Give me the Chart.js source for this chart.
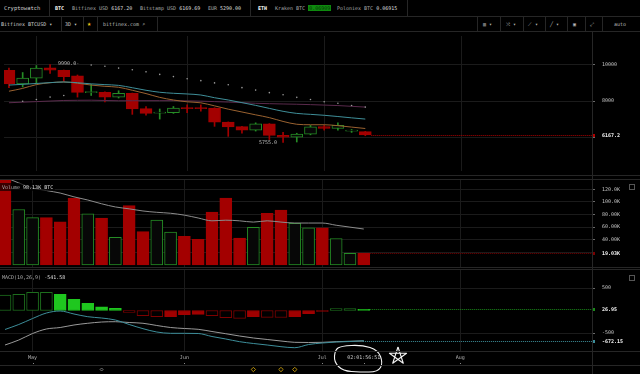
<!DOCTYPE html>
<html><head><meta charset="utf-8">
<script src="https://cdn.jsdelivr.net/npm/chart.js@4.4.1/dist/chart.umd.min.js"></script>
<style>
html,body{margin:0;padding:0;background:#000;width:640px;height:374px;overflow:hidden;font-family:"DejaVu Sans Mono",monospace;}
.t{position:absolute;white-space:nowrap;color:#a9a9a9;font-size:5px;line-height:6px;}
.t b{color:#dedede;font-weight:normal;}
.hl{position:absolute;height:1px;background:#262626;z-index:5;}
.vl{position:absolute;width:1px;background:#262626;z-index:5;}
.cv{position:absolute;left:0;}
</style></head><body>
<!-- top bar -->
<div class="t" style="left:4px;top:5px;color:#cfcfcf;font-size:5.5px">Cryptowatch</div>
<div class="vl" style="left:49px;top:0;height:16px"></div>
<div class="t" style="left:55px;top:5px;color:#fff;font-weight:bold">BTC</div>
<div class="t" style="left:72px;top:5px">Bitfinex USD <b>6167.20</b></div>
<div class="t" style="left:140px;top:5px">Bitstamp USD <b>6169.69</b></div>
<div class="t" style="left:208px;top:5px">EUR <b>5290.00</b></div>
<div class="vl" style="left:250px;top:0;height:16px"></div>
<div class="t" style="left:258px;top:5px;color:#fff;font-weight:bold">ETH</div>
<div class="t" style="left:275px;top:5px">Kraken BTC <span style="background:#0e8a0e;color:#063806;padding:0 1px">0.06909</span></div>
<div class="t" style="left:337px;top:5px">Poloniex BTC <b>0.06915</b></div>
<div class="vl" style="left:407px;top:0;height:16px"></div>
<div class="hl" style="left:0;top:16px;width:640px"></div>
<!-- toolbar -->
<div class="t" style="left:1px;top:21px;color:#cfcfcf">Bitfinex BTCUSD ▾</div>
<div class="vl" style="left:61px;top:17px;height:14px"></div>
<div class="t" style="left:65px;top:21px;color:#cfcfcf">3D ▾</div>
<div class="vl" style="left:83px;top:17px;height:14px"></div>
<div class="t" style="left:87px;top:20px;color:#f0c419;font-size:7px;line-height:8px">★</div>
<div class="vl" style="left:97px;top:17px;height:14px"></div>
<div class="t" style="left:103px;top:21px;color:#bcbcbc">bitfinex.com ⌕</div>
<div class="vl" style="left:157px;top:17px;height:14px"></div>
<div class="vl" style="left:477px;top:17px;height:14px"></div>
<div class="t" style="left:483px;top:21px;color:#bbb">▥ ▾</div>
<div class="vl" style="left:500px;top:17px;height:14px"></div>
<div class="t" style="left:506px;top:21px;color:#bbb">⤨ ▾</div>
<div class="vl" style="left:523px;top:17px;height:14px"></div>
<div class="t" style="left:528px;top:21px;color:#bbb">⟋ ▾</div>
<div class="vl" style="left:545px;top:17px;height:14px"></div>
<div class="t" style="left:550px;top:21px;color:#bbb">╱ ▾</div>
<div class="vl" style="left:567px;top:17px;height:14px"></div>
<div class="t" style="left:573px;top:21px;color:#bbb">▣</div>
<div class="vl" style="left:585px;top:17px;height:14px"></div>
<div class="t" style="left:590px;top:21px;color:#bbb">⤢</div>
<div class="vl" style="left:602px;top:17px;height:14px"></div>
<div class="t" style="left:614px;top:21px;color:#bbb">auto</div>
<div class="hl" style="left:0;top:31px;width:640px"></div>

<canvas id="priceC" class="cv" style="top:32px" width="640" height="143"></canvas>
<canvas id="volC" class="cv" style="top:180px" width="640" height="87"></canvas>
<canvas id="macdC" class="cv" style="top:270px" width="640" height="104"></canvas>

<div class="hl" style="left:0;top:175px;width:640px"></div>
<div class="hl" style="left:0;top:179px;width:640px"></div>
<div class="hl" style="left:0;top:267px;width:640px"></div>
<div class="hl" style="left:0;top:269px;width:640px"></div>
<div class="hl" style="left:0;top:351px;width:640px"></div>
<div class="hl" style="left:0;top:365px;width:640px"></div>
<div class="vl" style="left:592px;top:32px;height:342px"></div>

<div class="t" style="left:0;top:183px;padding:1px 2px;background:rgba(0,0,0,0.65);z-index:6">Volume <b>98.13K BTC</b></div>
<div class="t" style="left:2px;top:274px;z-index:6">MACD(10,26,9) <b>-541.58</b></div>
<div style="position:absolute;left:629px;top:184px;width:4px;height:4px;border:1px solid #555;z-index:6"></div>
<div style="position:absolute;left:629px;top:275px;width:4px;height:4px;border:1px solid #555;z-index:6"></div>

<script>
// ---------- data ----------
const monthLabels = ['May', 'Jun', 'Jul', 'Aug'];
const monthIndex  = [2, 13, 23, 33];

const opens  = [9675, 8938, 9246, 9810, 9677, 9369, 8462, 8477, 8220, 8426, 7590, 7349, 7369, 7641, 7656, 7626, 6856, 6615, 6426, 6769, 6138, 6036, 6205, 6615, 6513, 6374, 6344];
const highs  = [9795, 9554, 9933, 9990, 9690, 9420, 8908, 8500, 8564, 8440, 7708, 7574, 7708, 7795, 7795, 7640, 6870, 6630, 6821, 6780, 6308, 6256, 6682, 6682, 6821, 6460, 6360];
const lows   = [8733, 8769, 8938, 9503, 9077, 8220, 8308, 7964, 8169, 7282, 7231, 7026, 7333, 7369, 7451, 6631, 6087, 6256, 6374, 5913, 5755, 5780, 6170, 6426, 6426, 6300, 6120];
const closes = [8938, 9246, 9795, 9677, 9333, 8477, 8513, 8220, 8426, 7574, 7333, 7400, 7626, 7590, 7590, 6856, 6600, 6426, 6769, 6138, 6036, 6205, 6600, 6513, 6682, 6400, 6167.2];

const maTeal   = [8872, 8913, 8959, 9005, 9041, 9000, 8938, 8897, 8856, 8728, 8590, 8482, 8426, 8390, 8333, 8185, 8062, 7918, 7769, 7605, 7447, 7334, 7282, 7231, 7164, 7092, 7026];
const maOrange = [8539, 8692, 8897, 9000, 9041, 8974, 8872, 8805, 8754, 8590, 8410, 8205, 8062, 7964, 7908, 7744, 7564, 7410, 7256, 7103, 6898, 6744, 6718, 6718, 6667, 6590, 6513];
const maPurple = [7913, 7944, 7974, 8005, 8036, 8046, 8051, 8036, 8021, 8021, 8026, 8026, 8026, 8015, 8000, 7974, 7949, 7918, 7882, 7862, 7846, 7831, 7810, 7785, 7759, 7718, 7677];
const sarDots  = [null, 7990, 8087, 8220, 8308, null, 9964, 9897, 9795, 9708, 9590, 9451, 9333, 9215, 9113, 8990, 8887, 8733, 8600, 8462, 8344, 8205, 8087, 7964, 7882, 7759, 7677];

const volumesK = [138, 88, 75, 75, 68.6, 106, 81, 74.5, 44, 94, 52.8, 71, 52, 45.4, 40.7, 84, 106, 42.8, 59.7, 82, 87, 66, 59, 59, 42, 18.5, 19.03];
const volumeMAK = [139, 130, 122, 118, 114, 108, 103, 97, 92, 89, 85.6, 83.5, 82, 79, 74.5, 70, 71, 70, 68, 70, 68, 66.5, 66.5, 66.5, 63, 60, 57];

const macdHist   = [344, 360, 404, 404, 360, 249, 160, 84, 49, -40, -116, -138, -138, -93, -85, -116, -160, -174, -138, -152, -155, -138, -71, -18, 42, 44, 26.95];
const macdLine   = [-422, -311, -178, -56, -11, -78, -138, -167, -211, -311, -404, -478, -507, -507, -511, -578, -633, -693, -733, -767, -804, -827, -756, -722, -700, -689, -672.15];
const macdSignal = [-767, -656, -511, -411, -378, -322, -284, -256, -249, -267, -284, -333, -378, -400, -418, -467, -516, -567, -611, -644, -678, -707, -711, -707, -693, -684, -678];

const priceTicks = [6000, 8000, 10000];
const priceTickLabels = ['', '8000', '10000'];
const volumeTicks = [20, 40, 60, 80, 100, 120];
const volumeTickLabels = ['', '40.00K', '60.00K', '80.00K', '100.0K', '120.0K'];
const macdTicks = [-500, 500];
const macdTickLabels = ['-500', '500'];
const eventIndex = [18, 20, 21];
const otherEventIndex = [7];
const countdownText = '02:01:56:51';

// ---------- styles ----------
const MONO = '"DejaVu Sans Mono", monospace';
const RED = '#a30000', GREEN = '#258c25', HOLLOW = '#070707';
const GRID = '#1b1b1b';
const idx = opens.map((_, i) => i);
const up = idx.map(i => closes[i] >= opens[i]);
const lastI = idx.length - 1;

function xAxis(showLabels, h) {
  return {
    type: 'linear', min: -0.362, max: 42.54, offset: false,
    grid: { color: GRID, drawTicks: false, offset: false },
    border: { display: false },
    ticks: { display: showLabels, autoSkip: false, maxRotation: 0, color: '#b5b5b5',
      font: { family: MONO, size: 5 }, padding: 4, callback: (v, i) => monthLabels[i] },
    afterBuildTicks: s => { s.ticks = monthIndex.map(v => ({ value: v })); },
    afterFit: s => { s.height = h; s.paddingLeft = 0; s.paddingRight = 0; }
  };
}
function yAxis(min, max, ticks, labels) {
  return {
    type: 'linear', position: 'right', min, max,
    grid: { color: GRID, tickColor: '#6a6a6a', tickLength: 3 },
    border: { display: false },
    ticks: { color: '#c2c2c2', font: { family: MONO, size: 5 }, padding: 7, callback: (v, i) => labels[i] },
    afterBuildTicks: s => { s.ticks = ticks.map(v => ({ value: v })); },
    afterFit: s => { s.width = 48; s.paddingTop = 0; s.paddingBottom = 0; }
  };
}

const lastValPlugin = {
  id: 'lastVal',
  afterDatasetsDraw(chart, args, opts) {
    const items = (opts && opts.items) || [];
    const { ctx, chartArea: a, scales: { x, y } } = chart;
    items.forEach(it => {
      const py = Math.round(y.getPixelForValue(it.value)) + 0.5;
      const px0 = x.getPixelForValue(it.from) + 6;
      ctx.save();
      ctx.strokeStyle = it.color; ctx.lineWidth = 1; ctx.setLineDash([1, 1]);
      ctx.beginPath(); ctx.moveTo(px0, py); ctx.lineTo(a.right, py); ctx.stroke();
      ctx.setLineDash([]);
      ctx.fillStyle = it.color; ctx.fillRect(a.right, py - 1.5, 3, 3);
      ctx.fillStyle = '#f2f2f2'; ctx.font = 'bold 5px ' + MONO; ctx.textBaseline = 'middle';
      ctx.fillText(it.text, a.right + 10, py);
      ctx.restore();
    });
  }
};

const hiLoPlugin = {
  id: 'hiLo',
  afterDatasetsDraw(chart) {
    const { ctx, scales: { x, y } } = chart;
    let hi = 0, lo = 0;
    idx.forEach(i => { if (highs[i] > highs[hi]) hi = i; if (lows[i] < lows[lo]) lo = i; });
    ctx.save();
    ctx.font = '5px ' + MONO; ctx.fillStyle = '#bdbdbd'; ctx.textBaseline = 'middle';
    ctx.textAlign = 'left';
    ctx.fillText(highs[hi].toFixed(1) + '-', x.getPixelForValue(hi) + 8, y.getPixelForValue(highs[hi]) - 1);
    ctx.textAlign = 'right';
    ctx.fillText(lows[lo].toFixed(1), x.getPixelForValue(lo) - 6, y.getPixelForValue(lows[lo]));
    ctx.restore();
  }
};

const bottomRowPlugin = {
  id: 'bottomRow',
  afterDraw(chart) {
    const { ctx, scales: { x } } = chart;
    ctx.save();
    ctx.fillStyle = '#888';
    monthIndex.concat([lastI]).forEach(v => ctx.fillRect(Math.round(x.getPixelForValue(v)), 93, 1, 1));
    ctx.font = '5px ' + MONO; ctx.fillStyle = '#cfcfcf'; ctx.textAlign = 'center'; ctx.textBaseline = 'middle';
    ctx.fillText(countdownText, x.getPixelForValue(lastI), 87.5);
    const diamond = (cx, cy, r, col) => {
      ctx.strokeStyle = col; ctx.lineWidth = 1;
      ctx.beginPath(); ctx.moveTo(cx, cy - r); ctx.lineTo(cx + r, cy); ctx.lineTo(cx, cy + r); ctx.lineTo(cx - r, cy); ctx.closePath(); ctx.stroke();
    };
    eventIndex.forEach(v => diamond(x.getPixelForValue(v), 99.5, 2.2, '#b8900a'));
    otherEventIndex.forEach(v => diamond(x.getPixelForValue(v), 99.5, 1.5, '#777'));
    // hand-drawn scribbles (annotation on the screenshot)
    ctx.strokeStyle = '#f4f4f4'; ctx.lineWidth = 1.1; ctx.lineJoin = 'round';
    const pts = [[341, 76], [362, 75], [378, 80], [383, 93], [378, 102], [360, 102], [343, 101], [334, 92], [335, 80]];
    ctx.beginPath();
    const mid = (a, b) => [(a[0] + b[0]) / 2, (a[1] + b[1]) / 2];
    const m0 = mid(pts[pts.length - 1], pts[0]);
    ctx.moveTo(m0[0], m0[1]);
    for (let k = 0; k < pts.length; k++) {
      const p = pts[k], m = mid(p, pts[(k + 1) % pts.length]);
      ctx.quadraticCurveTo(p[0], p[1], m[0], m[1]);
    }
    ctx.stroke();
    const sc = [398, 86], sr = 9;
    const v = [0, 1, 2, 3, 4].map(k => { const ang = -Math.PI / 2 + k * 2 * Math.PI / 5; return [sc[0] + sr * Math.cos(ang), sc[1] + sr * Math.sin(ang)]; });
    ctx.beginPath();
    [0, 2, 4, 1, 3, 0].forEach((k, j) => j ? ctx.lineTo(v[k][0], v[k][1]) : ctx.moveTo(v[k][0], v[k][1]));
    ctx.stroke();
    ctx.restore();
  }
};

const common = {
  responsive: false, animation: false, devicePixelRatio: 1, events: [],
  layout: { padding: 0 },
};

// ---------- price ----------
new Chart(document.getElementById('priceC'), {
  type: 'bar',
  data: { datasets: [
    { type: 'line', data: idx.filter(i => sarDots[i] !== null).map(i => ({ x: i, y: sarDots[i] })), showLine: false,
      pointRadius: 0.8, pointBackgroundColor: '#9a9a9a', pointBorderWidth: 0, order: 0 },
    { type: 'line', data: idx.map(i => ({ x: i, y: maTeal[i] })), borderColor: '#3f8f99', borderWidth: 1, pointRadius: 0, cubicInterpolationMode: 'monotone', order: 1 },
    { type: 'line', data: idx.map(i => ({ x: i, y: maOrange[i] })), borderColor: '#9a6230', borderWidth: 1, pointRadius: 0, cubicInterpolationMode: 'monotone', order: 2 },
    { type: 'line', data: idx.map(i => ({ x: i, y: maPurple[i] })), borderColor: '#5a2a4c', borderWidth: 1, pointRadius: 0, cubicInterpolationMode: 'monotone', order: 3 },
    { data: idx.map(i => ({ x: i, y: [opens[i], closes[i]] })), backgroundColor: idx.map(i => up[i] ? HOLLOW : RED),
      borderColor: idx.map(i => up[i] ? GREEN : RED), borderWidth: 1, borderSkipped: false, barThickness: 12, grouped: false, minBarLength: 1, order: 4 },
    { data: idx.map(i => ({ x: i, y: [lows[i], highs[i]] })), backgroundColor: idx.map(i => up[i] ? GREEN : RED),
      barThickness: 1, grouped: false, order: 5 }
  ] },
  options: Object.assign({}, common, {
    scales: { x: xAxis(false, 0), y: yAxis(4205, 11538, priceTicks, priceTickLabels) },
    plugins: { legend: { display: false }, tooltip: { enabled: false },
      lastVal: { items: [{ value: closes[lastI], from: lastI, color: '#b00000', text: closes[lastI].toFixed(1) }] } }
  }),
  plugins: [lastValPlugin, hiLoPlugin]
});

// ---------- volume ----------
new Chart(document.getElementById('volC'), {
  type: 'bar',
  data: { datasets: [
    { type: 'line', data: idx.map(i => ({ x: i, y: volumeMAK[i] })), borderColor: '#8c8c8c', borderWidth: 1, pointRadius: 0, cubicInterpolationMode: 'monotone', order: 0 },
    { data: idx.map(i => ({ x: i, y: volumesK[i] })), backgroundColor: idx.map(i => up[i] ? HOLLOW : RED),
      borderColor: idx.map(i => up[i] ? GREEN : RED), borderWidth: 1, borderSkipped: false, barThickness: 12, grouped: false, order: 1 }
  ] },
  options: Object.assign({}, common, {
    scales: { x: xAxis(false, 0), y: yAxis(-3.17, 134.7, volumeTicks, volumeTickLabels) },
    plugins: { legend: { display: false }, tooltip: { enabled: false },
      lastVal: { items: [{ value: volumesK[lastI], from: lastI, color: '#7a0000', text: volumesK[lastI].toFixed(2) + 'K' }] } }
  }),
  plugins: [lastValPlugin]
});

// ---------- MACD ----------
const histRising = macdHist.map((v, i) => v >= (i ? macdHist[i - 1] : v));
const histFill = macdHist.map((v, i) => v >= 0 ? (histRising[i] ? '#000' : '#1fc71f') : (histRising[i] ? '#a00000' : '#000'));
const histBorder = macdHist.map((v, i) => v >= 0 ? (histRising[i] ? '#1d6e1d' : '#1fc71f') : (histRising[i] ? '#a00000' : '#7d0000'));
new Chart(document.getElementById('macdC'), {
  type: 'bar',
  data: { datasets: [
    { type: 'line', data: idx.map(i => ({ x: i, y: macdLine[i] })), borderColor: '#3d8e9a', borderWidth: 1, pointRadius: 0, cubicInterpolationMode: 'monotone', order: 0 },
    { type: 'line', data: idx.map(i => ({ x: i, y: macdSignal[i] })), borderColor: '#9a9a9a', borderWidth: 1, pointRadius: 0, cubicInterpolationMode: 'monotone', order: 1 },
    { data: idx.map(i => ({ x: i, y: macdHist[i] })), backgroundColor: histFill, borderColor: histBorder,
      borderWidth: 1, borderSkipped: false, barThickness: 12, grouped: false, minBarLength: 1, order: 2 }
  ] },
  options: Object.assign({}, common, {
    scales: { x: xAxis(true, 23), y: yAxis(-900, 900, macdTicks, macdTickLabels) },
    plugins: { legend: { display: false }, tooltip: { enabled: false },
      lastVal: { items: [
        { value: macdHist[lastI], from: lastI, color: '#1a8a1a', text: macdHist[lastI].toFixed(2) },
        { value: macdLine[lastI], from: lastI - 0.5, color: '#3d8e9a', text: macdLine[lastI].toFixed(2) }
      ] } }
  }),
  plugins: [lastValPlugin, bottomRowPlugin]
});
</script>
</body></html>
